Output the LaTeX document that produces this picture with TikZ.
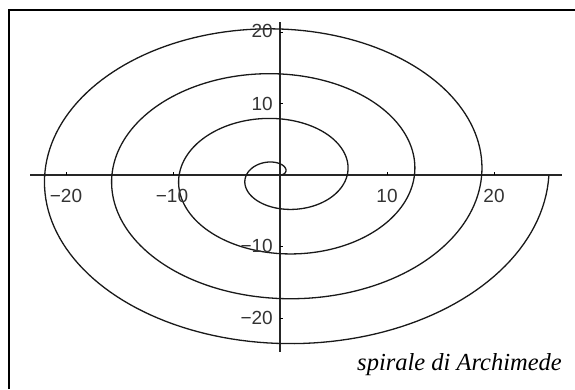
\documentclass[tikz,border=0pt]{standalone}
\usepackage{fontspec}
\newfontfamily\numfont{Liberation Sans}
\newfontfamily\capfont{Liberation Serif}
\begin{document}
\begin{tikzpicture}[x=1pt,y=-1pt,
  axisline/.style={line width=1.6pt,black!85},
  curveline/.style={line width=1.3pt,black!90,line join=round},
  ticklbl/.style={font=\numfont\fontsize{19}{19}\selectfont,text=black!80,inner sep=0pt},
  caption/.style={font=\capfont\itshape\fontsize{24.5}{24.5}\selectfont,inner sep=0pt},
  frameline/.style={line width=2pt,black}]
\useasboundingbox (0,0) rectangle (575,389);
% frame (left and top edges)
\coordinate (fbl) at (9,389);
\coordinate (ftl) at (9,10);
\coordinate (ftr) at (575,10);
\draw[frameline] (fbl) -- (ftl) -- (ftr);
% axes
\coordinate (xl) at (30,175);
\coordinate (xr) at (562,175);
\coordinate (yt) at (280,22);
\coordinate (yb) at (280,352);
\draw[axisline] (xl) -- (xr);
\draw[axisline] (yt) -- (yb);
% spiral r = theta, theta in [0, 8 pi]
\begin{scope}[shift={(280,175)},x=10.7pt,y=7.15pt]
  \draw[curveline] plot[variable=\t,domain=0:25.1327,samples=700]
    ({\t*cos(\t r)},{\t*sin(\t r)});
  % ticks
  \foreach \v in {-20,-10,10,20}{
    \draw[line width=1pt] (\v,0) -- (\v,0.45);
    \draw[line width=1pt] (0,\v) -- (0.3,\v);
  }
\end{scope}
% tick labels
\node[ticklbl,anchor=center] (lxm20) at (66,196) {−20};
\node[ticklbl,anchor=center] (lxm10) at (172,196) {−10};
\node[ticklbl,anchor=center] (lx10) at (387,196) {10};
\node[ticklbl,anchor=center] (lx20) at (494,196) {20};
\node[ticklbl,anchor=east] (ly20) at (273,31) {20};
\node[ticklbl,anchor=east] (ly10) at (273,104) {10};
\node[ticklbl,anchor=east] (lym10) at (273,246) {−10};
\node[ticklbl,anchor=east] (lym20) at (273,318) {−20};
% caption
\node[caption,anchor=base east] (cap) at (562,370) {spirale di Archimede};
\end{tikzpicture}
\end{document}
